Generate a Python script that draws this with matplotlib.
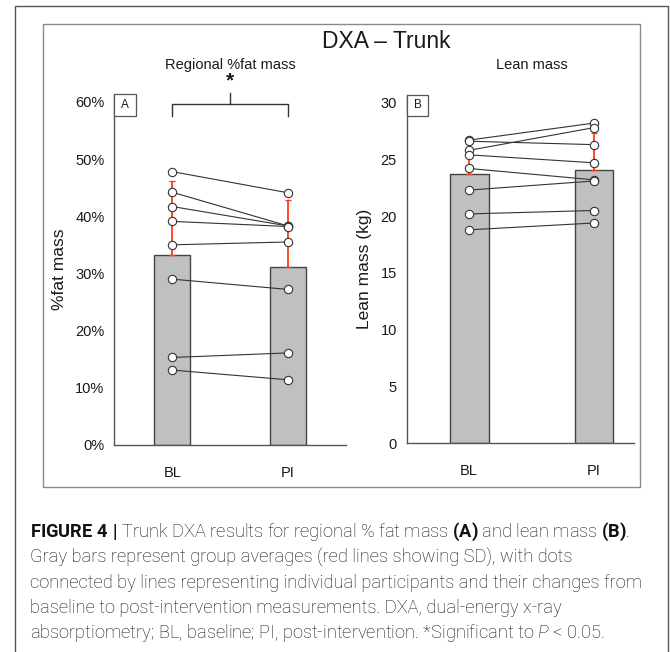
import matplotlib
matplotlib.use("Agg")
import matplotlib.pyplot as plt
from matplotlib.lines import Line2D
from matplotlib.patches import Rectangle
from matplotlib import font_manager

# ---- data ----
groups = ["BL", "PI"]

fat_bl = [47.8, 44.2, 41.7, 39.1, 35.0, 29.0, 15.3, 13.1]
fat_pi = [44.1, 38.3, 38.3, 38.2, 35.5, 27.2, 16.1, 11.4]
fat_mean = [33.2, 31.2]
fat_sd = [13.0, 11.7]

lean_bl = [26.7, 26.6, 25.8, 25.4, 24.2, 22.3, 20.2, 18.8]
lean_pi = [28.2, 26.3, 27.8, 24.7, 23.2, 23.1, 20.5, 19.4]
lean_mean = [23.7, 24.1]
lean_sd = [3.0, 3.2]

fat_ticks = [0, 10, 20, 30, 40, 50, 60]
lean_ticks = [0, 5, 10, 15, 20, 25, 30]

caption = [
    r"$\mathbf{FIGURE\ 4\ |}$ Trunk DXA results for regional % fat mass $\mathbf{(A)}$ and lean mass $\mathbf{(B)}$.",
    "Gray bars represent group averages (red lines showing SD), with dots",
    "connected by lines representing individual participants and their changes from",
    "baseline to post-intervention measurements. DXA, dual-energy x-ray",
    r"absorptiometry; BL, baseline; PI, post-intervention. *Significant to $P$ < 0.05.",
]

names = {f.name for f in font_manager.fontManager.ttflist}
cap_font = "Roboto" if "Roboto" in names else "Liberation Sans"

plt.rcParams["font.family"] = ["Liberation Sans", "DejaVu Sans"]
plt.rcParams["mathtext.fontset"] = "custom"
plt.rcParams["mathtext.rm"] = cap_font + ":light"
plt.rcParams["mathtext.bf"] = cap_font + ":bold"
plt.rcParams["mathtext.it"] = cap_font + ":italic:light"

BAR = "#c0c0c0"
EDGE = "#444444"
RED = "#ff3b14"
INK = "#1a1a1a"

fig = plt.figure(figsize=(6.7, 6.52), dpi=100)


def panel(ax, bl, pi, means, sds, ylim, ticks, fmt, xmax, width, letter, ylabel, title):
    x = [0, 1]
    ax.bar(x, means, width=width, color=BAR, edgecolor=EDGE, linewidth=1.0, zorder=1)
    ax.errorbar(x, means, yerr=[[0, 0], sds], fmt="none", ecolor=RED,
                elinewidth=1.3, capsize=2.5, capthick=1.0, zorder=2)
    for a, b in zip(bl, pi):
        ax.plot(x, [a, b], color="#333333", lw=0.8, zorder=3,
                marker="o", ms=6, mfc="white", mec="#333333", mew=0.8)
    ax.set_xlim(-0.5, xmax)
    ax.set_ylim(*ylim)
    ax.set_yticks(ticks)
    ax.set_yticklabels([fmt.format(t) for t in ticks])
    ax.set_xticks(x)
    ax.set_xticklabels(groups)
    ax.tick_params(axis="y", length=0, pad=7, labelsize=10.5, colors=INK)
    ax.tick_params(axis="x", length=0, pad=15, labelsize=10.5, colors=INK)
    for s in ("top", "right"):
        ax.spines[s].set_visible(False)
    for s in ("left", "bottom"):
        ax.spines[s].set_color("#555555")
        ax.spines[s].set_linewidth(1.0)
    ax.set_ylabel(ylabel, fontsize=12.5, color=INK, labelpad=6)
    # letter box in the top-left corner
    bw = 21.5 / (ax.get_position().width * 670)
    bh = 21.5 / (ax.get_position().height * 652)
    ax.add_patch(Rectangle((0, 1 - bh), bw, bh, transform=ax.transAxes,
                           fill=True, facecolor="white", edgecolor="#555555",
                           lw=0.9, clip_on=False, zorder=5))
    ax.text(bw / 2, 1 - bh / 2, letter, transform=ax.transAxes, ha="center",
            va="center", fontsize=8.5, color=INK, zorder=6)
    ax.annotate(title, xy=(0.5, 1 - 65 / 652), xycoords=("data", "figure fraction"),
                ha="center", va="center", fontsize=10.5, color=INK)


axA = fig.add_axes([0.1706, 0.3175, 0.3458, 0.5377])
panel(axA, fat_bl, fat_pi, fat_mean, fat_sd, (0, 61.3), fat_ticks, "{}%",
      1.5, 0.315, "A", "%fat mass", "Regional %fat mass")

axB = fig.add_axes([0.607, 0.3201, 0.3393, 0.5347])
panel(axB, lean_bl, lean_pi, lean_mean, lean_sd, (0, 30.7), lean_ticks, "{}",
      1.32, 0.31, "B", "Lean mass (kg)", "Lean mass")

# significance bracket in panel A
axA.plot([0, 0, 1, 1], [57.6, 59.7, 59.7, 57.6], color="#333333", lw=1.0, clip_on=False)
axA.plot([0.5, 0.5], [59.7, 61.6], color="#333333", lw=1.0, clip_on=False)
axA.text(0.5, 62.0, "*", ha="center", va="bottom", fontsize=15, fontweight="bold",
         color=INK, clip_on=False)

# title
fig.text(0.5769, 1 - 41.3 / 652, "DXA – Trunk", ha="center", va="center",
         fontsize=16.5, color=INK)

# frames
fig.add_artist(Line2D([15 / 670, 15 / 670, 668.3 / 670, 668.3 / 670],
                      [0, 1 - 6 / 652, 1 - 6 / 652, 0],
                      transform=fig.transFigure, color="#555555", lw=1.0))
fig.add_artist(Rectangle((43.3 / 670, 1 - 486.7 / 652), (640 - 43.3) / 670,
                         (486.7 - 24) / 652, transform=fig.transFigure,
                         fill=False, edgecolor="#8a8a8a", lw=1.0))

# caption, sized so that the longest line spans the text block
texts = []
for i, line in enumerate(caption):
    yb = 536.7 + i * 25.4
    texts.append(fig.text(30 / 670, 1 - yb / 652, line, ha="left", va="baseline",
                          fontsize=13.3, family=cap_font, weight="light",
                          color="#111111"))
renderer = fig.canvas.get_renderer()
w = texts[2].get_window_extent(renderer).width
size = 13.3 * 610 / w
for t in texts:
    t.set_fontsize(size)

fig.savefig("out.png", dpi=100)
